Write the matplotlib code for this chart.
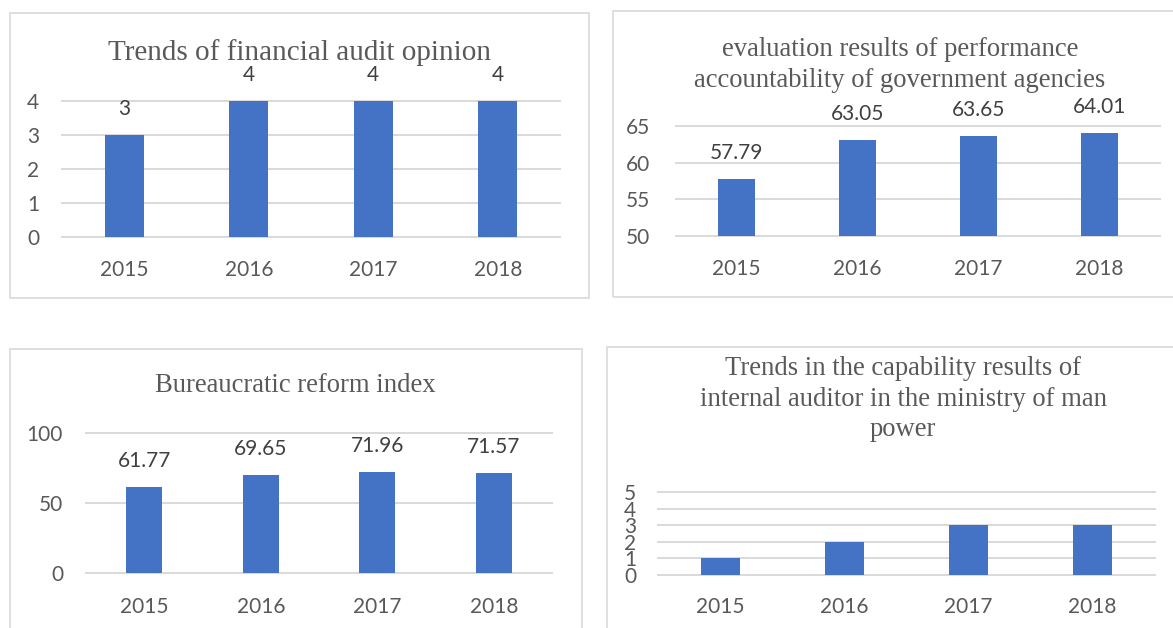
import matplotlib
matplotlib.use("Agg")
import matplotlib.pyplot as plt
from matplotlib.patches import Rectangle

years = ["2015", "2016", "2017", "2018"]
audit_opinion = [3, 4, 4, 4]
accountability = [57.79, 63.05, 63.65, 64.01]
reform_index = [61.77, 69.65, 71.96, 71.57]
auditor_capability = [1, 2, 3, 3]

titles = [
    "Trends of financial audit opinion",
    "evaluation results of performance\naccountability of government agencies",
    "Bureaucratic reform index",
    "Trends in the capability results of\ninternal auditor in the ministry of man\npower",
]
yticks_list = [[0, 1, 2, 3, 4], [50, 55, 60, 65], [0, 50, 100], [0, 1, 2, 3, 4, 5]]

W, H = 1173, 628
fig = plt.figure(figsize=(W / 100, H / 100), dpi=100)
fig.patch.set_facecolor("white")

BAR = "#4472C4"
GRID = "#d9d9d9"
TXT = "#595959"
LBL = "#404040"
SANS = "Lato"
SERIF = "Liberation Serif"


def px_rect(x0, x1, ytop, ybot):
    return [x0 / W, 1 - ybot / H, (x1 - x0) / W, (ybot - ytop) / H]


# panel borders
for (x0, x1, yt, yb) in [(9.6, 589, 13, 298), (612.5, 1190, 10.7, 297),
                         (9.6, 582, 349, 650), (607, 1190, 347, 650)]:
    fig.patches.append(Rectangle((x0 / W, 1 - yb / H), (x1 - x0) / W, (yb - yt) / H,
                                 transform=fig.transFigure, fill=False,
                                 edgecolor=GRID, linewidth=1.2, zorder=0))

panels = [
    dict(data=audit_opinion, rect=(62, 560, 101, 237), ylim=(0, 4), labels=True,
         fmt="{:g}", ypad=16.5, xpad=16.5,
         title_xy=(300, 53), title_fs=21),
    dict(data=accountability, rect=(676, 1160, 126, 236), ylim=(50, 65), labels=True,
         fmt="{:.2f}", ypad=18.5, xpad=16.5,
         title_xy=(900, 65), title_fs=19.2),
    dict(data=reform_index, rect=(86, 552, 433, 573), ylim=(0, 100), labels=True,
         fmt="{:.2f}", ypad=16.5, xpad=17,
         title_xy=(295, 386), title_fs=19.2),
    dict(data=auditor_capability, rect=(658.5, 1154.5, 492, 575), ylim=(0, 5), labels=False,
         fmt="{:g}", ypad=16, xpad=16,
         title_xy=(903, 399), title_fs=19.2),
]

for i, p in enumerate(panels):
    x0, x1, yt, yb = p["rect"]
    ax = fig.add_axes(px_rect(x0, x1, yt, yb))
    ax.set_facecolor("none")
    xs = list(range(len(years)))
    ax.bar(xs, p["data"], width=0.31, color=BAR, zorder=3)
    for v in yticks_list[i]:
        ax.axhline(v, color=GRID, linewidth=1.4, zorder=1, clip_on=False)
    ax.set_xlim(-0.5, len(years) - 0.5)
    ax.set_ylim(*p["ylim"])
    ax.set_xticks(xs)
    ax.set_xticklabels(years)
    ax.set_yticks(yticks_list[i])
    ax.set_yticklabels([str(v) for v in yticks_list[i]])
    ax.tick_params(axis="both", length=0, labelsize=15, labelcolor=TXT)
    ax.tick_params(axis="y", pad=p["ypad"])
    ax.tick_params(axis="x", pad=p["xpad"])
    for lab in ax.get_xticklabels() + ax.get_yticklabels():
        lab.set_fontfamily(SANS)
    for s in ax.spines.values():
        s.set_visible(False)
    if p["labels"]:
        for x, v in zip(xs, p["data"]):
            ax.annotate(p["fmt"].format(v), (x, v), xytext=(0, 26),
                        textcoords="offset pixels", ha="center", va="center",
                        fontsize=15, color=LBL, family=SANS, clip_on=False)
    tx, ty = p["title_xy"]
    fig.text(tx / W, 1 - ty / H, titles[i], ha="center", va="center",
             fontsize=p["title_fs"], family=SERIF, color=TXT, linespacing=1.28)

fig.savefig("out.png", dpi=100, facecolor="white")
